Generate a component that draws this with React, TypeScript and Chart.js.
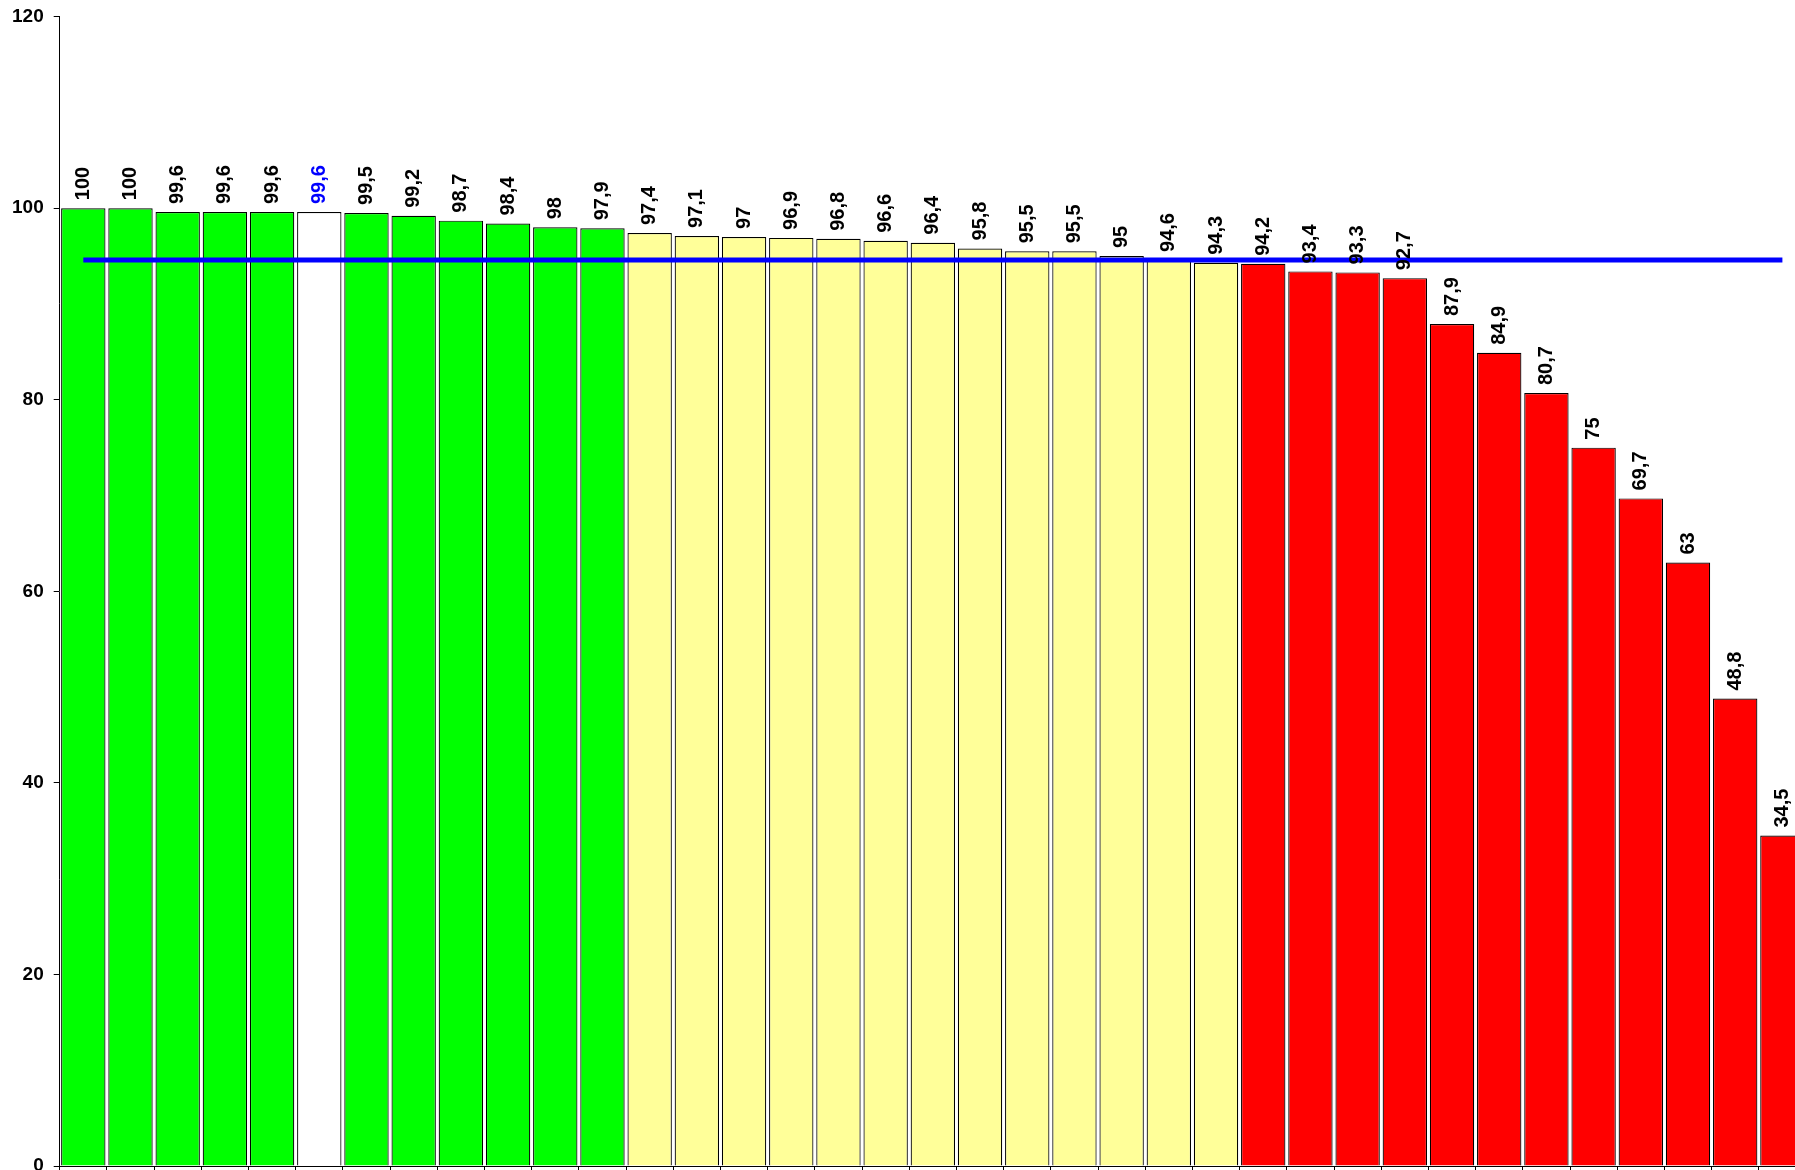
import React, { useEffect, useRef } from "react";
import { Chart, registerables } from "chart.js";

Chart.register(...registerables);

const categories: string[] = Array.from({ length: 37 }, () => "");

const values: number[] = [
  100, 100, 99.6, 99.6, 99.6, 99.6, 99.5, 99.2, 98.7, 98.4, 98, 97.9,
  97.4, 97.1, 97, 96.9, 96.8, 96.6, 96.4, 95.8, 95.5, 95.5, 95, 94.6, 94.3,
  94.2, 93.4, 93.3, 92.7, 87.9, 84.9, 80.7, 75, 69.7, 63, 48.8, 34.5,
];

const groups: string[] = [
  "g", "g", "g", "g", "g", "w", "g", "g", "g", "g", "g", "g",
  "y", "y", "y", "y", "y", "y", "y", "y", "y", "y", "y", "y", "y",
  "r", "r", "r", "r", "r", "r", "r", "r", "r", "r", "r", "r",
];

const averageValue = 94.6;

const groupColors: Record<string, string> = {
  g: "#00FF00",
  y: "#FFFF99",
  r: "#FF0000",
  w: "#FFFFFF",
};

const fmt = (v: number) => String(v).replace(".", ",");

const labelPlugin = {
  id: "barLabels",
  afterDraw(chart: any) {
    const meta = chart.getDatasetMeta(1);
    const ctx = chart.ctx;
    ctx.save();
    ctx.font = "bold 20px 'Liberation Sans', Arial, sans-serif";
    ctx.textAlign = "left";
    ctx.textBaseline = "middle";
    meta.data.forEach((bar: any, i: number) => {
      ctx.save();
      ctx.translate(bar.x, bar.y - 8);
      ctx.rotate(-Math.PI / 2);
      ctx.fillStyle = groups[i] === "w" ? "#0000FF" : "#000000";
      ctx.fillText(fmt(values[i]), 0, 0);
      ctx.restore();
    });
    ctx.restore();
  },
};

export default function App() {
  const ref = useRef<HTMLCanvasElement | null>(null);
  useEffect(() => {
    if (!ref.current) return;
    const chart = new Chart(ref.current, {
      type: "bar",
      data: {
        labels: categories,
        datasets: [
          {
            type: "line",
            data: categories.map(() => averageValue),
            borderColor: "#0000FF",
            borderWidth: 5,
            pointRadius: 0,
            fill: false,
            order: 0,
          } as any,
          {
            type: "bar",
            data: values,
            backgroundColor: groups.map((g) => groupColors[g]),
            borderColor: "#000000",
            borderWidth: 1.2,
            barPercentage: 0.94,
            categoryPercentage: 1,
            order: 1,
          },
        ],
      },
      options: {
        animation: false,
        responsive: false,
        maintainAspectRatio: false,
        layout: { padding: { left: 2, right: 9, top: 0, bottom: 20 } },
        plugins: {
          legend: { display: false },
          tooltip: { enabled: false },
        },
        scales: {
          x: {
            offset: true,
            grid: {
              offset: true,
              drawOnChartArea: false,
              drawTicks: true,
              tickLength: 4,
              color: "#000000",
            },
            border: { color: "#000000", width: 1 },
            ticks: { display: false },
          },
          y: {
            min: 0,
            max: 120,
            ticks: {
              stepSize: 20,
              padding: 10,
              color: "#000000",
              font: { family: "'Liberation Sans', Arial, sans-serif", size: 19, weight: "bold", lineHeight: 0.7 },
            },
            grid: {
              drawOnChartArea: false,
              drawTicks: true,
              tickLength: 6,
              color: "#000000",
            },
            border: { color: "#000000", width: 1 },
          },
        },
      },
      plugins: [labelPlugin],
    });
    return () => chart.destroy();
  }, []);

  return (
    <div
      style={{
        position: "fixed",
        left: 0,
        top: 0,
        width: 1795,
        height: 1170,
        overflow: "hidden",
        background: "#ffffff",
      }}
    >
      <canvas ref={ref} width={1815} height={1190} style={{ width: 1815, height: 1190, display: "block" }} />
    </div>
  );
}
